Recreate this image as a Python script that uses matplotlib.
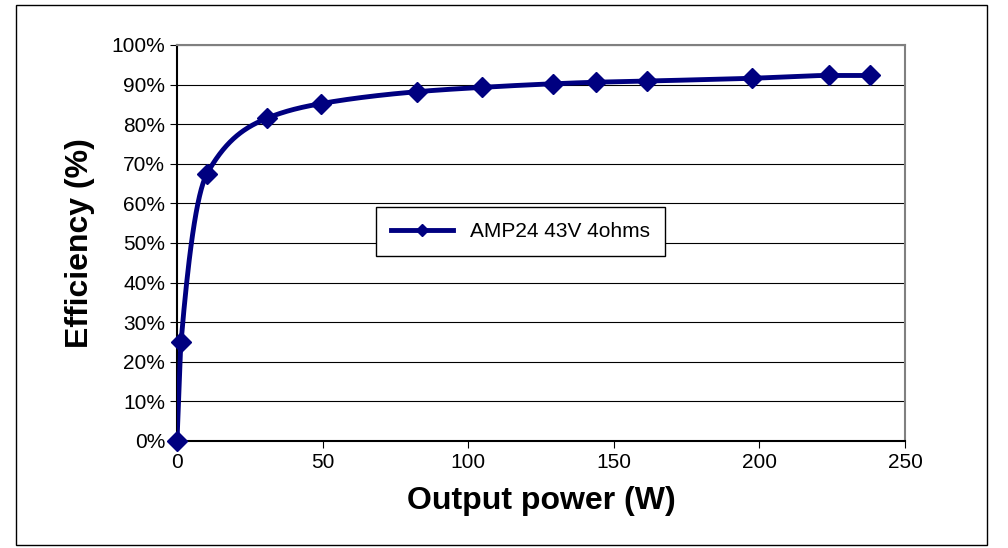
import numpy as np
import matplotlib
matplotlib.use("Agg")
import matplotlib.pyplot as plt
from matplotlib.patches import Rectangle

power = [0, 1.4, 10.3, 30.9, 49.5, 82.4, 104.7, 129.0, 144.0, 161.5, 197.5, 224.0, 238.0]
eff = [0, 25.0, 67.5, 81.5, 85.2, 88.2, 89.3, 90.2, 90.6, 90.9, 91.6, 92.3, 92.3]
series_name = "AMP24 43V 4ohms"
yticks = list(range(0, 101, 10))
xticks = [0, 50, 100, 150, 200, 250]

def pchip(x, y, xs):
    x = np.asarray(x, float); y = np.asarray(y, float)
    h = np.diff(x); d = np.diff(y) / h
    m = np.zeros_like(y)
    for k in range(1, len(x) - 1):
        if d[k-1] * d[k] > 0:
            w1 = 2*h[k] + h[k-1]; w2 = h[k] + 2*h[k-1]
            m[k] = (w1 + w2) / (w1/d[k-1] + w2/d[k])
    m[0] = d[0]; m[-1] = d[-1]
    out = []
    for xv in xs:
        k = min(np.searchsorted(x, xv, side='right') - 1, len(x) - 2)
        t = (xv - x[k]) / h[k]
        h00 = 2*t**3 - 3*t**2 + 1; h10 = t**3 - 2*t**2 + t
        h01 = -2*t**3 + 3*t**2; h11 = t**3 - t**2
        out.append(h00*y[k] + h10*h[k]*m[k] + h01*y[k+1] + h11*h[k]*m[k+1])
    return np.array(out)

fig = plt.figure(figsize=(10.08, 5.48), dpi=100)
fig.patches.append(Rectangle((16/1008, 3/548), 971/1008, 540/548, transform=fig.transFigure,
                             fill=False, edgecolor='black', linewidth=1))
ax = fig.add_axes([0.1756, 0.1953, 0.7222, 0.7226])
xs = np.linspace(power[0], power[-1], 800)
ax.plot(xs, pchip(power, eff, xs), color='#000080', linewidth=3.5, zorder=3)
ax.plot(power, eff, linestyle='none', marker='D', markersize=10, color='#000080', zorder=4, clip_on=False)
ax.set_xlim(0, 250); ax.set_ylim(0, 100)
ax.set_xticks(xticks); ax.set_yticks(yticks)
ax.set_yticklabels([f"{v}%" for v in yticks])
ax.grid(axis='y', color='black', linewidth=0.8)
for s in ax.spines.values():
    s.set_color('#808080'); s.set_linewidth(1.5)
ax.spines['left'].set_color('black'); ax.spines['bottom'].set_color('black')
ax.tick_params(labelsize=15, direction='out', length=5)
for lab in ax.get_xticklabels() + ax.get_yticklabels():
    lab.set_fontfamily('Liberation Sans')
ax.set_xlabel("Output power (W)", fontsize=23, fontweight='bold', family='Liberation Sans', labelpad=10)
ax.set_ylabel("Efficiency (%)", fontsize=23, fontweight='bold', family='Liberation Sans', labelpad=12)
leg = ax.legend([plt.Line2D([], [], color='#000080', lw=3.5, marker='D', markersize=6)], [series_name],
                loc='upper left', bbox_to_anchor=((366-177)/728, (441-197)/396), fancybox=False,
                framealpha=1, edgecolor='black', prop={'family': 'Liberation Sans', 'size': 15},
                borderpad=0.7, handlelength=3)
leg.get_frame().set_linewidth(1)
fig.savefig("out.png", dpi=100)
